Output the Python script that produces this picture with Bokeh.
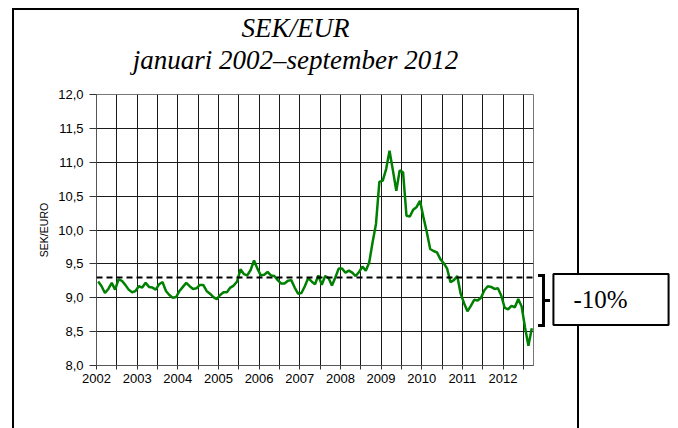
from bokeh.plotting import figure
from bokeh.models import (Range1d, FixedTicker, CustomJSTickFormatter, Label, Span,
                          InlineStyleSheet)
from bokeh.embed import file_html
from bokeh.resources import INLINE

# ---------------- data ----------------
title_line1 = "SEK/EUR"
title_line2 = "januari 2002–september 2012"
y_label = "SEK/EURO"
year_labels = ["2002", "2003", "2004", "2005", "2006", "2007",
               "2008", "2009", "2010", "2011", "2012"]
y_tick_values = [8.0, 8.5, 9.0, 9.5, 10.0, 10.5, 11.0, 11.5, 12.0]
annotation_text = "-10%"
reference_level = 9.30

# monthly SEK/EUR, January 2002 ... September 2012 (129 months)
sek_eur = [
    9.24, 9.17, 9.07, 9.13, 9.22, 9.12, 9.27, 9.25, 9.19, 9.12, 9.08, 9.10,   # 2002
    9.17, 9.15, 9.22, 9.16, 9.15, 9.12, 9.20, 9.23, 9.10, 9.04, 9.00, 9.01,   # 2003
    9.10, 9.16, 9.22, 9.17, 9.13, 9.14, 9.19, 9.19, 9.10, 9.06, 9.01, 8.98,   # 2004
    9.04, 9.08, 9.08, 9.15, 9.18, 9.24, 9.42, 9.35, 9.33, 9.41, 9.55, 9.43,   # 2005
    9.33, 9.34, 9.38, 9.33, 9.32, 9.26, 9.21, 9.21, 9.25, 9.26, 9.15, 9.06,   # 2006
    9.07, 9.17, 9.29, 9.24, 9.20, 9.33, 9.19, 9.32, 9.29, 9.18, 9.30, 9.43,   # 2007
    9.43, 9.37, 9.40, 9.37, 9.32, 9.38, 9.46, 9.40, 9.52, 9.82, 10.09, 10.71, # 2008
    10.73, 10.90, 11.17, 10.88, 10.58, 10.88, 10.85, 10.21, 10.20, 10.30, 10.34, 10.43,  # 2009
    10.19, 9.97, 9.72, 9.69, 9.67, 9.57, 9.51, 9.43, 9.23, 9.26, 9.32, 9.06,  # 2010
    8.92, 8.80, 8.88, 8.97, 8.96, 9.00, 9.11, 9.17, 9.16, 9.13, 9.14, 9.03,   # 2011
    8.85, 8.83, 8.88, 8.86, 8.98, 8.87, 8.56, 8.29, 8.55,                     # 2012
]
month_index = list(range(len(sek_eur)))
x_pos = [m + 0.5 for m in month_index]

# ---------------- figure ----------------
W, H = 678, 428
p = figure(width=W, height=H, output_backend="svg", toolbar_location=None,
           x_range=Range1d(0, len(sek_eur)), y_range=Range1d(8, 12),
           min_border_left=96, min_border_right=145, min_border_top=94,
           min_border_bottom=63)
p.background_fill_color = "white"
p.border_fill_color = "white"
p.outline_line_color = "#777777"

axis_font = "Liberation Sans"
half_year_ticks = list(range(0, len(sek_eur) + 1, 6))
p.xaxis.ticker = FixedTicker(ticks=half_year_ticks)
p.xaxis.formatter = CustomJSTickFormatter(args=dict(labels=year_labels), code="""
    if (tick % 12 === 0) { const l = labels[tick / 12]; return l === undefined ? "" : l; }
    return "";
""")
p.yaxis.ticker = FixedTicker(ticks=y_tick_values)
p.yaxis.formatter = CustomJSTickFormatter(code="return tick.toFixed(1).replace('.', ',');")
for ax in (p.xaxis[0], p.yaxis[0]):
    ax.major_label_text_font = axis_font
    ax.major_label_text_font_size = "13px"
    ax.major_label_text_color = "black"
    ax.axis_line_color = "#555555"
    ax.major_tick_line_color = "#333333"
    ax.minor_tick_line_color = None
    ax.major_tick_in = 0
p.xaxis.major_tick_out = 4
p.xaxis.major_label_standoff = 4
p.yaxis.major_tick_out = 7
p.yaxis.major_label_standoff = 6
p.yaxis.axis_label = y_label
p.yaxis.axis_label_text_font = axis_font
p.yaxis.axis_label_text_font_style = "normal"
p.yaxis.axis_label_text_font_size = "10.5px"
p.yaxis.axis_label_text_color = "black"
p.yaxis.axis_label_standoff = 5

p.xgrid.ticker = FixedTicker(ticks=half_year_ticks)
p.ygrid.ticker = FixedTicker(ticks=y_tick_values)
for g in (p.xgrid[0], p.ygrid[0]):
    g.grid_line_color = "#1a1a1a"
    g.grid_line_width = 1

# dashed reference level
p.add_layout(Span(location=reference_level, dimension="width", line_color="black",
                  line_width=2, line_dash="6 4"))

# the series
p.line(x_pos, sek_eur, line_color="#008000", line_width=2.5)

serif = "Liberation Serif"
# ---------------- title (two lines, centred on the outer frame) ----------------
p.add_layout(Label(x=199, y=50.5, x_units="screen", y_units="screen",
                   text=title_line1 + "\n" + title_line2, text_font=serif,
                   text_font_style="italic", text_font_size="27px",
                   text_color="black",
                   text_align="center", text_baseline="middle",
                   text_line_height=1.06), "above")

# ---------------- "-10%" box ----------------
p.add_layout(Label(x=77.5, y=66, x_units="screen", y_units="screen",
                   text=annotation_text, text_font=serif, text_font_size="25px",
                   text_color="black",
                   text_align="center", text_baseline="middle",
                   border_line_color="black", border_line_width=2,
                   background_fill_color="white", padding=(20, 41, 12, 12)), "right")

# ---------------- outer frame and bracket (page decoration, CSS) ----------------
segments = [  # (left, top, width, height) in page pixels
    (12, 8, 2, H - 8),        # frame left
    (12, 8, 567, 2),          # frame top
    (577, 8, 2, 265),         # frame right, above the box
    (577, 326, 2, H - 326),   # frame right, below the box
    (542, 274, 3, 53),        # bracket vertical
    (538, 274, 7, 3),         # bracket top serif
    (538, 324, 7, 3),         # bracket bottom serif
    (544, 299, 6, 3),         # bracket nub
]
css = """
:host { position: relative; }
:host::after {
  content: "";
  position: absolute; left: 0; top: 0; width: %dpx; height: %dpx;
  pointer-events: none; z-index: 100;
  background-repeat: no-repeat;
  background-image: %s;
  background-position: %s;
  background-size: %s;
}
""" % (W, H,
       ", ".join(["linear-gradient(#000, #000)"] * len(segments)),
       ", ".join("%gpx %gpx" % (s[0], s[1]) for s in segments),
       ", ".join("%gpx %gpx" % (s[2], s[3]) for s in segments))
p.stylesheets = [InlineStyleSheet(css=css)]

open("out.html", "w").write(file_html(p, INLINE))
